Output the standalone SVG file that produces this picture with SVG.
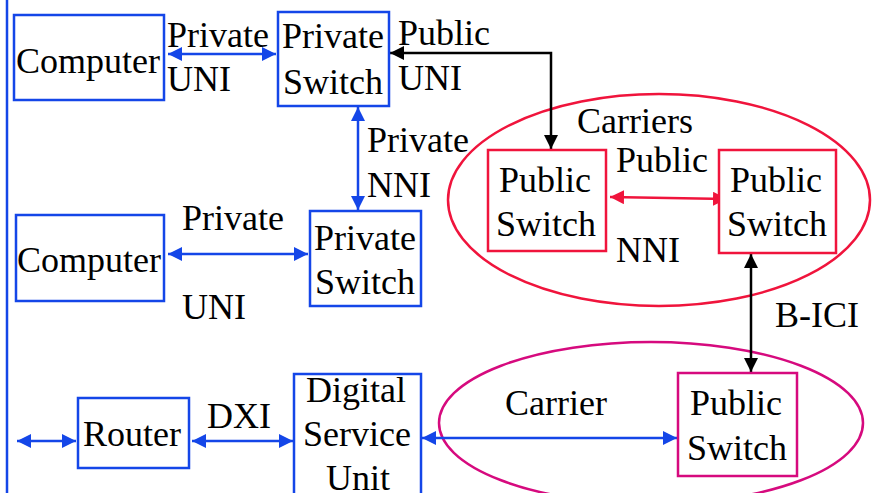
<svg xmlns="http://www.w3.org/2000/svg" width="878" height="493" viewBox="0 0 878 493">
<style>
.t text{font-size:36px;fill:#000}
.bb{fill:#fff;stroke:#1446e8;stroke-width:2.5}
.rb{fill:#fff;stroke:#f0143c;stroke-width:2.5}
.mb{fill:#fff;stroke:#d60a7e;stroke-width:2.5}
.bl{stroke:#1446e8;stroke-width:2.5;fill:none;marker-start:url(#ab);marker-end:url(#ab)}
.rl{stroke:#f0143c;stroke-width:2.5;fill:none;marker-start:url(#ar);marker-end:url(#ar)}
.kl{stroke:#000;stroke-width:2.5;fill:none;marker-start:url(#ak);marker-end:url(#ak)}
</style>
<defs>
<marker id="ab" markerUnits="userSpaceOnUse" markerWidth="15" markerHeight="14" refX="14" refY="7" orient="auto-start-reverse"><path d="M0,0 L14,7 L0,14 z" fill="#1446e8"/></marker>
<marker id="ar" markerUnits="userSpaceOnUse" markerWidth="15" markerHeight="14" refX="14" refY="7" orient="auto-start-reverse"><path d="M0,0 L14,7 L0,14 z" fill="#f0143c"/></marker>
<marker id="ak" markerUnits="userSpaceOnUse" markerWidth="15" markerHeight="14" refX="14" refY="7" orient="auto-start-reverse"><path d="M0,0 L14,7 L0,14 z" fill="#000"/></marker>
</defs>
<rect width="878" height="493" fill="#fff"/>
<g class="t" font-family="Liberation Serif, Tinos, Times New Roman, DejaVu Serif, serif">
<line x1="7" y1="0" x2="7" y2="493" stroke="#1446e8" stroke-width="2.5"/>
<g id="carriers-cloud"><ellipse cx="659" cy="200" rx="211" ry="106" fill="none" stroke="#f0143c" stroke-width="2.5"/><text x="577" y="133">Carriers</text></g>
<g id="carrier-cloud"><ellipse cx="651" cy="423" rx="212" ry="81" fill="none" stroke="#d60a7e" stroke-width="2.5"/><text x="505" y="415">Carrier</text></g>
<g id="connectors">
<line class="bl" x1="168" y1="54" x2="276" y2="54"/>
<text x="167" y="47">Private</text><text x="167" y="91">UNI</text>
<polyline class="kl" points="390,53 551,53 551,149"/>
<text x="398" y="45">Public</text><text x="398" y="90">UNI</text>
<line class="bl" x1="358" y1="107" x2="358" y2="210"/>
<text x="367" y="152">Private</text><text x="367" y="197">NNI</text>
<line class="bl" x1="168" y1="254" x2="308" y2="254"/>
<text x="182" y="230">Private</text><text x="182" y="319">UNI</text>
<line class="rl" x1="610" y1="197" x2="727" y2="199"/>
<text x="616" y="172">Public</text><text x="616" y="262">NNI</text>
<line class="kl" x1="751" y1="254" x2="751" y2="372"/>
<text x="775" y="327">B-ICI</text>
<line class="bl" x1="17" y1="441" x2="76" y2="441"/>
<line class="bl" x1="192" y1="441" x2="293" y2="441"/>
<text x="207" y="428">DXI</text>
<line class="bl" x1="422" y1="438" x2="677" y2="438"/>
</g>
<g id="computer1"><rect class="bb" x="14" y="15" width="150" height="85"/><text x="16" y="73">Computer</text></g>
<g id="private-switch1"><rect class="bb" x="278" y="12" width="111" height="94"/><text x="282" y="48">Private</text><text x="283" y="94">Switch</text></g>
<g id="computer2"><rect class="bb" x="16" y="215" width="148" height="86"/><text x="17" y="272">Computer</text></g>
<g id="private-switch2"><rect class="bb" x="310" y="211" width="111" height="95"/><text x="314" y="250">Private</text><text x="315" y="294">Switch</text></g>
<g id="public-switch1"><rect class="rb" x="488" y="150" width="118" height="101"/><text x="499" y="192">Public</text><text x="496" y="236">Switch</text></g>
<g id="public-switch2"><rect class="rb" x="719" y="150" width="117" height="103"/><text x="730" y="192">Public</text><text x="727" y="236">Switch</text></g>
<g id="router"><rect class="bb" x="78" y="398" width="111" height="70"/><text x="83" y="446">Router</text></g>
<g id="dsu"><rect class="bb" x="294" y="374" width="127" height="130"/><text x="306" y="402">Digital</text><text x="303" y="446">Service</text><text x="326" y="490">Unit</text></g>
<g id="public-switch3"><rect class="mb" x="678" y="373" width="119" height="103"/><text x="690" y="415">Public</text><text x="687" y="460">Switch</text></g>
</g>
</svg>
